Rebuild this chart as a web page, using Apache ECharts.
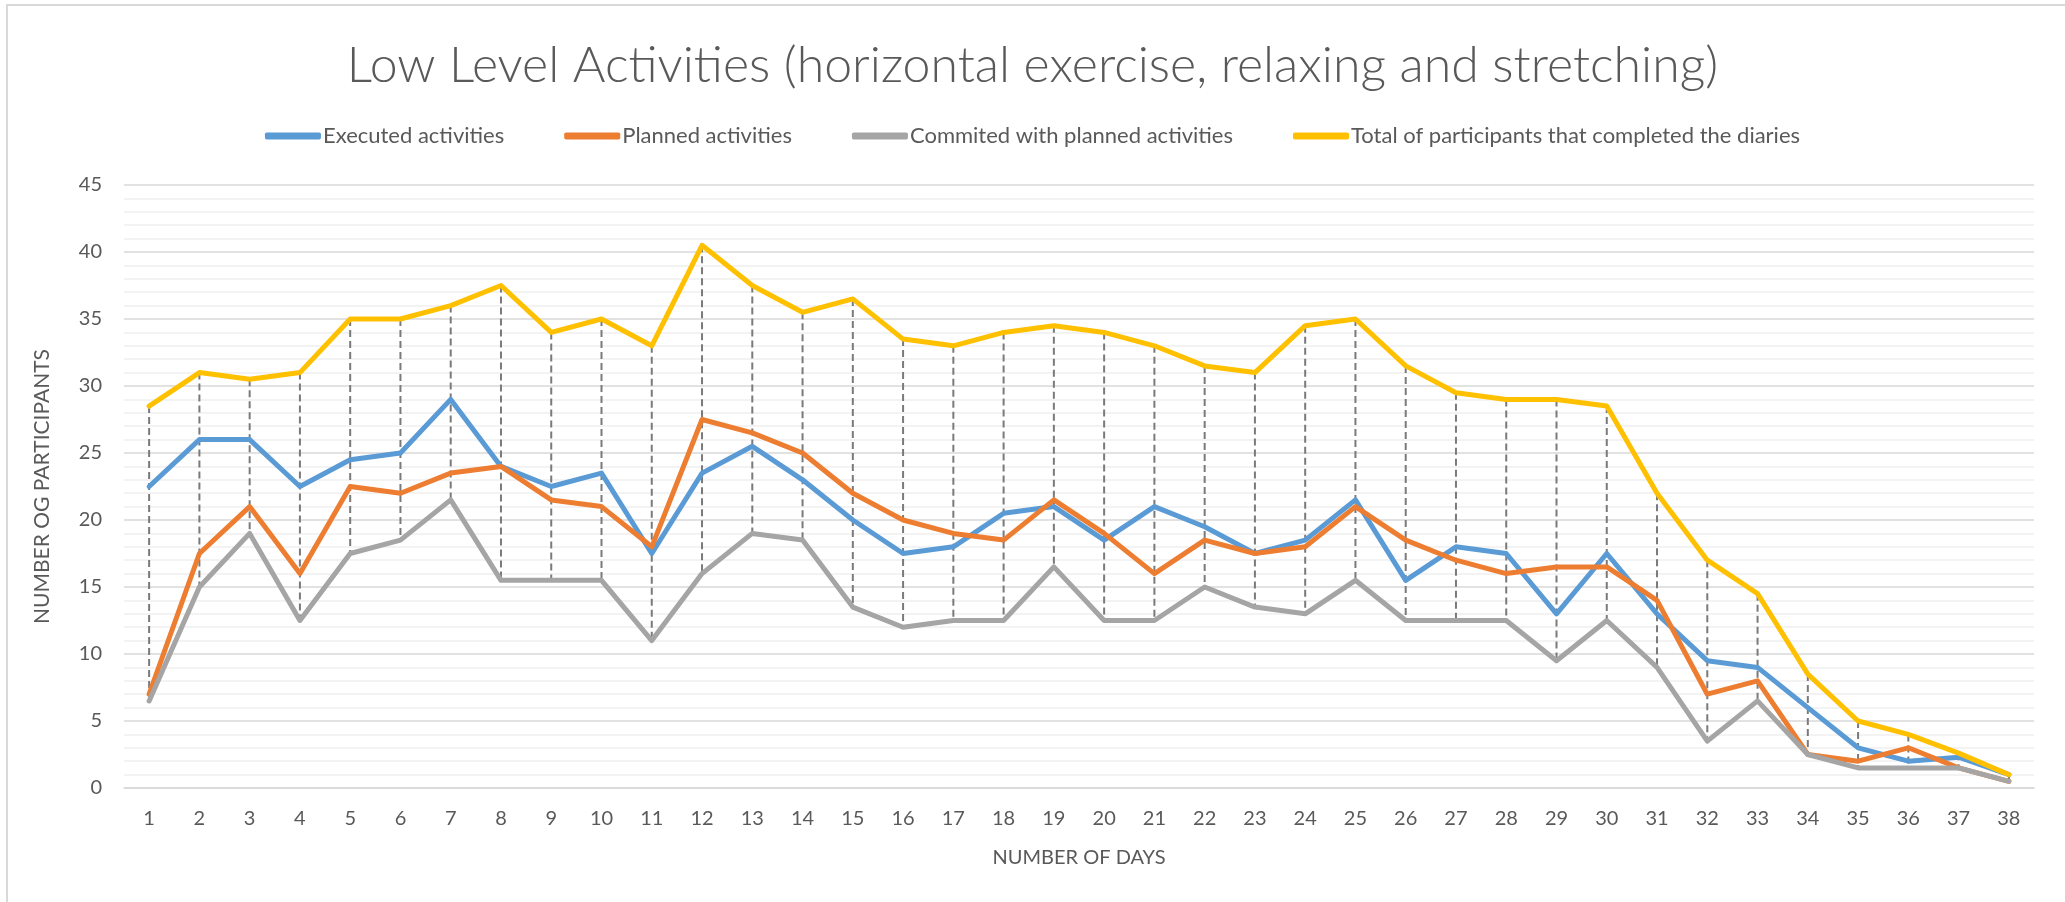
<!DOCTYPE html>
<html>
<head>
<meta charset="utf-8">
<title>Low Level Activities</title>
<script src="https://cdn.jsdelivr.net/npm/echarts@6/dist/echarts.min.js"></script>
<style>
  html, body { margin: 0; padding: 0; background: #ffffff; }
  #chart { width: 2065px; height: 902px; }
</style>
</head>
<body>
<div id="chart"></div>
<script>
// data
const days = ['1','2','3','4','5','6','7','8','9','10','11','12','13','14','15','16','17','18','19','20',
  '21','22','23','24','25','26','27','28','29','30','31','32','33','34','35','36','37','38'];

const executed = [22.5, 26, 26, 22.5, 24.5, 25, 29, 24, 22.5, 23.5,
  17.5, 23.5, 25.5, 23, 20, 17.5, 18, 20.5, 21, 18.5,
  21, 19.5, 17.5, 18.5, 21.5, 15.5, 18, 17.5, 13, 17.5,
  13, 9.5, 9, 6, 3, 2, 2.3, 1];

const planned = [7, 17.5, 21, 16, 22.5, 22, 23.5, 24, 21.5, 21,
  18, 27.5, 26.5, 25, 22, 20, 19, 18.5, 21.5, 19,
  16, 18.5, 17.5, 18, 21, 18.5, 17, 16, 16.5, 16.5,
  14, 7, 8, 2.5, 2, 3, 1.5, 0.5];

const commited = [6.5, 15, 19, 12.5, 17.5, 18.5, 21.5, 15.5, 15.5, 15.5,
  11, 16, 19, 18.5, 13.5, 12, 12.5, 12.5, 16.5, 12.5,
  12.5, 15, 13.5, 13, 15.5, 12.5, 12.5, 12.5, 9.5, 12.5,
  9, 3.5, 6.5, 2.5, 1.5, 1.5, 1.5, 0.5];

const total = [28.5, 31, 30.5, 31, 35, 35, 36, 37.5, 34, 35,
  33, 40.5, 37.5, 35.5, 36.5, 33.5, 33, 34, 34.5, 34,
  33, 31.5, 31, 34.5, 35, 31.5, 29.5, 29, 29, 28.5,
  22, 17, 14.5, 8.5, 5, 4, 2.6, 1];

const seriesNames = ['Executed activities', 'Planned activities', 'Commited with planned activities', 'Total of participants that completed the diaries'];
const seriesColors = ['#5B9BD5', '#ED7D31', '#A5A5A5', '#FFC000'];
const allSeries = [executed, planned, commited, total];

// high-low lines: highest and lowest value at each day
const highLow = days.map((d, i) => {
  const vals = allSeries.map(s => s[i]);
  return [i, Math.max(...vals), Math.min(...vals)];
});

const chart = echarts.init(document.getElementById('chart'));
const txt = '#595959';
const font = 'Lato';

const option = {
  backgroundColor: '#ffffff',
  animation: false,
  textStyle: { fontFamily: font },
  title: {
    text: 'Low Level Activities (horizontal exercise, relaxing and stretching)',
    left: 'center',
    top: 36,
    textStyle: { color: txt, fontSize: 50, fontWeight: 300, fontFamily: font }
  },
  legend: {
    top: 120,
    left: 'center',
    icon: 'roundRect',
    itemWidth: 56,
    itemHeight: 7,
    itemGap: 60,
    data: seriesNames,
    textStyle: { color: txt, fontSize: 22, fontFamily: font, padding: [0, 0, 0, -3] }
  },
  graphic: [{
    type: 'rect',
    shape: { x: 7, y: 5, width: 2200, height: 1000 },
    style: { fill: 'none', stroke: '#D9D9D9', lineWidth: 2 },
    silent: true
  }],
  grid: { left: 124, right: 31, top: 185, bottom: 114 },
  xAxis: {
    type: 'category',
    data: days,
    boundaryGap: true,
    name: 'NUMBER OF DAYS',
    nameLocation: 'middle',
    nameGap: 60,
    nameTextStyle: { color: txt, fontSize: 20, fontFamily: font },
    axisLine: { lineStyle: { color: '#D9D9D9', width: 1.5 } },
    axisTick: { show: false },
    axisLabel: { color: txt, fontSize: 20, margin: 21, fontFamily: font }
  },
  yAxis: {
    type: 'value',
    min: 0,
    max: 45,
    interval: 5,
    name: 'NUMBER OG PARTICIPANTS',
    nameLocation: 'middle',
    nameGap: 71,
    nameTextStyle: { color: txt, fontSize: 21, fontFamily: font },
    axisLine: { show: false },
    axisTick: { show: false },
    axisLabel: { color: txt, fontSize: 20, margin: 22, fontFamily: font },
    splitLine: { lineStyle: { color: '#D9D9D9', width: 1.5 } },
    minorTick: { show: false, splitNumber: 5 },
    minorSplitLine: { show: true, lineStyle: { color: '#F0F0F0', width: 1.5 } }
  },
  series: [
    {
      type: 'custom',
      name: 'highlow',
      z: 1,
      silent: true,
      data: highLow,
      encode: { x: 0, y: [1, 2] },
      renderItem: function (params, api) {
        const top = api.coord([api.value(0), api.value(1)]);
        const bot = api.coord([api.value(0), api.value(2)]);
        return {
          type: 'line',
          shape: { x1: top[0], y1: top[1], x2: bot[0], y2: bot[1] },
          style: { stroke: '#7A7A7A', lineWidth: 2, lineDash: [7, 4] }
        };
      }
    }
  ].concat(allSeries.map((vals, k) => ({
    name: seriesNames[k],
    type: 'line',
    data: vals,
    z: 2 + k,
    showSymbol: false,
    symbol: 'none',
    color: seriesColors[k],
    lineStyle: { width: 5, color: seriesColors[k], join: 'round', cap: 'round' }
  })))
};

chart.setOption(option);
</script>
</body>
</html>
